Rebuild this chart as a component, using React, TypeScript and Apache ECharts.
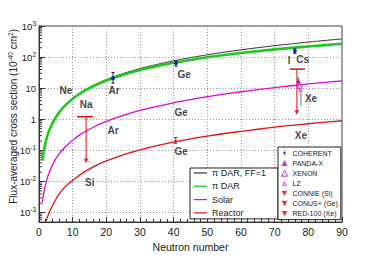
import React, { useEffect, useRef } from "react";
import * as echarts from "echarts";

// ---- curve data (neutron number vs flux-averaged cross section, 1e-40 cm^2) ----
const neutronNumbers = [1, 1.25, 1.5, 1.75, 2, 2.5, 3, 3.5, 4, 5, 6, 7, 8, 10, 12, 14, 17, 20, 25, 30, 35, 40, 45, 50, 55, 60, 65, 70, 75, 80, 85, 90];
const piDarFF1 = [0.048, 0.074, 0.107, 0.145, 0.19, 0.30, 0.43, 0.58, 0.76, 1.19, 1.71, 2.33, 3.04, 4.75, 6.8, 9.3, 13.7, 19.0, 29.7, 42.8, 58, 76, 96, 119, 144, 171, 201, 233, 267, 304, 343, 385];
const piDar = [0.047, 0.074, 0.106, 0.144, 0.19, 0.30, 0.43, 0.57, 0.75, 1.17, 1.67, 2.27, 2.96, 4.59, 6.5, 8.8, 12.9, 17.7, 27.2, 38.4, 51, 66, 81, 99, 117, 136, 156, 177, 198, 220, 243, 266];
const solar = [0.0021, 0.0033, 0.0048, 0.0066, 0.0086, 0.0134, 0.019, 0.026, 0.034, 0.054, 0.077, 0.105, 0.137, 0.214, 0.31, 0.42, 0.62, 0.86, 1.34, 1.93, 2.6, 3.4, 4.3, 5.35, 6.5, 7.7, 9.0, 10.5, 12.0, 13.7, 15.5, 17.3];
const reactorNumbers = [2, 2.5, 3, 3.5, 4, 5, 6, 7, 8, 10, 12, 14, 17, 20, 25, 30, 35, 40, 45, 50, 55, 60, 65, 70, 75, 80, 85, 90];
const reactor = [0.0005, 0.00072, 0.00098, 0.0013, 0.0017, 0.0027, 0.004, 0.0055, 0.0072, 0.011, 0.016, 0.022, 0.033, 0.046, 0.072, 0.104, 0.142, 0.186, 0.235, 0.29, 0.35, 0.41, 0.48, 0.56, 0.64, 0.72, 0.81, 0.9];

// ---- measurements: [N, value, low, high] ----
const coherent = [
  [22, 21, 14.5, 32],
  [40.7, 63, 51, 76],
  [76, 157, 132, 183],
];
const pandaX = [[77.0, 17.5, 12.5, 23]];
const xenon = [[77.4, 12.0, 7.5, 17]];
const lz = [[77.8, 9.0, 2.6, 13]];
const conus = [[40.6, 0.205, 0.17, 0.26]];

// ---- upper limits: [N left, N right, N centre, limit, arrow tip] ----
const connie = [[11.3, 16, 14, 1.21, 0.038]];
const red100 = [[74.5, 79, 76.6, 41, 1.37]];

// ---- element annotations ----
const labelTexts = ["Ne", "Na", "Ar", "Ar", "Si", "Ge", "Ge", "Ge", "I", "Cs", "Xe", "Xe"];
const labelN = [8.0, 14.0, 22.3, 22.0, 15.1, 43.1, 42.2, 42.2, 74.3, 78.3, 80.8, 77.8];
const labelV = [8.75, 3.1, 8.75, 0.45, 0.0096, 28.6, 1.6, 0.089, 80, 86, 4.84, 0.31];

const xTicks = [0, 10, 20, 30, 40, 50, 60, 70, 80, 90];

const FONT = "Liberation Sans, Arial, Helvetica, sans-serif";
const DOWN = "path://M0,0L10,0L5,9Z";
const COH_ICON = "path://M4.6,0h0.8v10h-0.8z M5,3a2,2 0 1 1 0,4a2,2 0 1 1 0,-4z";

const Y_MIN = 5e-4;
const Y_MAX = 1000;

export default function App() {
  const ref = useRef<HTMLDivElement>(null);
  useEffect(() => {
    if (!ref.current) return;
    const chart = echarts.init(ref.current, undefined, { renderer: "svg" });

    const minorTickValues: number[] = [];
    for (let e = -4; e < 3; e++) {
      for (let m = 2; m <= 9; m++) {
        const v = m * Math.pow(10, e);
        if (v > Y_MIN && v < Y_MAX) minorTickValues.push(v);
      }
    }

    const errBar = (color: string, cap: number) => (params: any, api: any) => {
      const x = api.value(0);
      const p1 = api.coord([x, api.value(2)]);
      const p2 = api.coord([x, api.value(3)]);
      return {
        type: "group",
        children: [
          { type: "line", shape: { x1: p1[0], y1: p1[1], x2: p2[0], y2: p2[1] }, style: { stroke: color, lineWidth: 1 } },
          { type: "line", shape: { x1: p1[0] - cap, y1: p1[1], x2: p1[0] + cap, y2: p1[1] }, style: { stroke: color, lineWidth: 1 } },
          { type: "line", shape: { x1: p2[0] - cap, y1: p2[1], x2: p2[0] + cap, y2: p2[1] }, style: { stroke: color, lineWidth: 1 } },
        ],
      };
    };

    const limitRender = (params: any, api: any) => {
      const a = api.coord([api.value(0), api.value(3)]);
      const b = api.coord([api.value(1), api.value(3)]);
      const c1 = api.coord([api.value(2), api.value(3)]);
      const c2 = api.coord([api.value(2), api.value(4)]);
      return {
        type: "group",
        children: [
          { type: "line", shape: { x1: a[0], y1: a[1], x2: b[0], y2: b[1] }, style: { stroke: "#e01010", lineWidth: 1.5 } },
          { type: "line", shape: { x1: c1[0], y1: c1[1], x2: c2[0], y2: c2[1] - 3 }, style: { stroke: "#e01010", lineWidth: 1 } },
        ],
      };
    };

    const curve = (name: string, xs: number[], ys: number[], color: string, width: number) => ({
      name,
      type: "line",
      data: xs.map((x, i) => [x, ys[i]]),
      symbol: "none",
      smooth: 0.3,
      lineStyle: { color, width },
      itemStyle: { color },
      silent: true,
    });

    chart.setOption({
      animation: false,
      textStyle: { fontFamily: FONT },
      grid: { left: 39, right: 39, top: 26, bottom: 37, show: true, borderColor: "#444", borderWidth: 1, backgroundColor: "#fff" },
      xAxis: {
        type: "value",
        min: xTicks[0],
        max: xTicks[xTicks.length - 1],
        interval: 10,
        name: "Neutron number",
        nameLocation: "middle",
        nameGap: 14,
        nameTextStyle: { fontSize: 10.5, color: "#222", fontFamily: FONT, verticalAlign: "top" },
        axisLine: { lineStyle: { color: "#333" } },
        axisTick: { inside: true, length: 5, lineStyle: { color: "#333" } },
        minorTick: { show: true, splitNumber: 5, length: 3, lineStyle: { color: "#333" } },
        axisLabel: { fontSize: 10.5, color: "#222", margin: 4, fontFamily: FONT },
        splitLine: { show: true, lineStyle: { color: "#999", type: [1, 2], width: 1 } },
      },
      yAxis: {
        type: "log",
        logBase: 10,
        min: Y_MIN,
        max: Y_MAX,
        splitNumber: 7,
        axisLine: { lineStyle: { color: "#333" } },
        axisTick: { inside: true, length: 6, lineStyle: { color: "#333" } },
        axisLabel: {
          fontSize: 9.5,
          color: "#222",
          margin: 3,
          fontFamily: FONT,
          showMinLabel: false,
          formatter: (v: number) => {
            const l = Math.log10(v);
            const e = Math.round(l);
            if (Math.abs(l - e) > 1e-6) return "";
            if (e === 0) return "1";
            if (e === 1) return "10";
            return "10{sup|" + String(e) + "}";
          },
          rich: { sup: { fontSize: 6.5, padding: [0, 0, 6, 0], fontFamily: FONT, color: "#222" } },
        },
        splitLine: { show: true, lineStyle: { color: "#999", type: [1, 2], width: 1 } },
      },
      legend: [
        {
          left: 190,
          top: 168,
          orient: "vertical",
          data: ["\u03c0 DAR, FF=1", "\u03c0 DAR", "Solar", "Reactor"],
          icon: "rect",
          itemWidth: 13,
          itemHeight: 1.2,
          itemGap: 3.3,
          padding: [0, 12, 1, 4],
          textStyle: { fontSize: 9, lineHeight: 10, color: "#222", fontFamily: FONT },
          backgroundColor: "#fff",
          borderColor: "#222",
          borderWidth: 1,
          selectedMode: false,
        },
        {
          left: 278,
          top: 147,
          orient: "vertical",
          data: [
            { name: "COHERENT", icon: COH_ICON },
            { name: "PANDA-X", icon: "triangle" },
            { name: "XENON", icon: "triangle", itemStyle: { color: "#fff", borderColor: "#c000c0", borderWidth: 1 } },
            { name: "LZ", icon: "triangle" },
            { name: "CONNIE (Si)", icon: DOWN },
            { name: "CONUS+ (Ge)", icon: DOWN },
            { name: "RED-100 (Xe)", icon: DOWN },
          ],
          itemWidth: 6,
          itemHeight: 6,
          itemGap: 2.1,
          padding: [2, 3, 2, 3],
          textStyle: { fontSize: 7, lineHeight: 8, color: "#222", fontFamily: FONT },
          backgroundColor: "#fff",
          borderColor: "#222",
          borderWidth: 1,
          selectedMode: false,
        },
      ],
      graphic: [
        {
          type: "text",
          x: 13.5,
          y: 29,
          rotation: Math.PI / 2,
          style: {
            text: "Flux-averaged cross section (10{sup|-40} cm{sup|2})",
            align: "right",
            verticalAlign: "middle",
            fontSize: 10,
            fontFamily: FONT,
            fill: "#222",
            rich: { sup: { fontSize: 6.5, padding: [0, 0, 6, 0], fontFamily: FONT, fill: "#222" } },
          },
        },
      ],
      series: [
        {
          name: "minorTicks",
          type: "custom",
          silent: true,
          data: minorTickValues.map((v) => [0, v]),
          renderItem: (params: any, api: any) => {
            const p = api.coord([0, api.value(1)]);
            return { type: "line", shape: { x1: p[0], y1: p[1], x2: p[0] + 3, y2: p[1] }, style: { stroke: "#333", lineWidth: 1 } };
          },
          z: 3,
        },
        curve("\u03c0 DAR, FF=1", neutronNumbers, piDarFF1, "#333333", 1),
        curve("\u03c0 DAR", neutronNumbers, piDar, "#1ec81e", 2.6),
        curve("Solar", neutronNumbers, solar, "#e000e0", 1.3),
        curve("Reactor", reactorNumbers, reactor, "#e01010", 1.3),
        { name: "errCoherent", type: "custom", data: coherent, renderItem: errBar("#222", 1.5), encode: { x: 0, y: [2, 3] }, z: 4 },
        { name: "errXe", type: "custom", data: [...pandaX, ...xenon, ...lz], renderItem: errBar("#777", 0), encode: { x: 0, y: [2, 3] }, z: 4 },
        { name: "errConus", type: "custom", data: conus, renderItem: errBar("#444", 1.5), encode: { x: 0, y: [2, 3] }, z: 4 },
        { name: "limits", type: "custom", data: [...connie, ...red100], renderItem: limitRender, encode: { x: 0, y: 3 }, z: 4 },
        {
          name: "COHERENT",
          type: "scatter",
          data: coherent.map((d) => [d[0], d[1]]),
          symbol: "circle",
          symbolSize: 4,
          itemStyle: { color: "#0000e0" },
          z: 5,
        },
        { name: "PANDA-X", type: "scatter", data: pandaX.map((d) => [d[0], d[1]]), symbol: "triangle", symbolSize: 5, itemStyle: { color: "#c000c0" }, z: 5 },
        {
          name: "XENON",
          type: "scatter",
          data: xenon.map((d) => [d[0], d[1]]),
          symbol: "triangle",
          symbolSize: 5,
          itemStyle: { color: "#fff", borderColor: "#c000c0", borderWidth: 1 },
          z: 5,
        },
        { name: "LZ", type: "scatter", data: lz.map((d) => [d[0], d[1]]), symbol: "triangle", symbolSize: 5, itemStyle: { color: "#e070e0" }, z: 5 },
        {
          name: "CONNIE (Si)",
          type: "scatter",
          data: connie.map((d) => [d[2], d[4]]),
          symbol: DOWN,
          symbolSize: [5, 5],
          symbolOffset: [0, -2.5],
          itemStyle: { color: "#e01010" },
          z: 5,
        },
        {
          name: "CONUS+ (Ge)",
          type: "scatter",
          data: conus.map((d) => [d[0], d[1]]),
          symbol: "circle",
          symbolSize: 2.5,
          itemStyle: { color: "#e01010" },
          z: 5,
        },
        {
          name: "RED-100 (Xe)",
          type: "scatter",
          data: red100.map((d) => [d[2], d[4]]),
          symbol: DOWN,
          symbolSize: [5, 5],
          symbolOffset: [0, -2.5],
          itemStyle: { color: "#e01010" },
          z: 5,
        },
        {
          name: "labels",
          type: "scatter",
          silent: true,
          symbolSize: 0,
          data: labelTexts.map((t, i) => ({ name: t, value: [labelN[i], labelV[i]] })),
          label: {
            show: true,
            position: "inside",
            formatter: "{b}",
            fontSize: 10,
            fontWeight: "bold",
            color: "#111",
            fontFamily: FONT,
          },
          z: 6,
        },
      ],
    });
    return () => chart.dispose();
  }, []);
  return <div ref={ref} style={{ position: "fixed", left: 0, top: 0, width: 381, height: 259, background: "#fff" }} />;
}
